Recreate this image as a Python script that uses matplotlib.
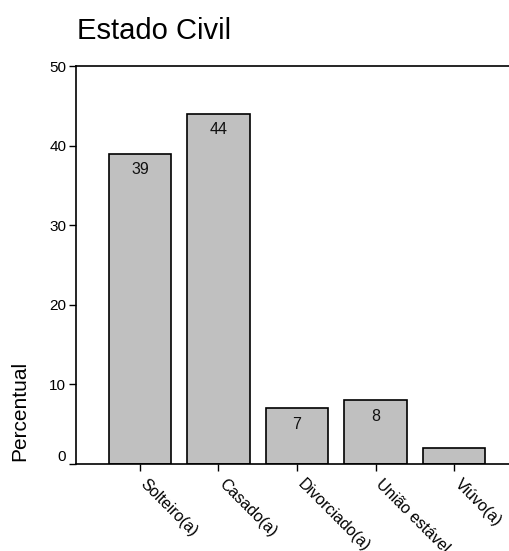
import matplotlib
matplotlib.use("Agg")
import matplotlib.pyplot as plt
from matplotlib.transforms import ScaledTranslation

plt.rcParams['font.family'] = ['Liberation Sans', 'DejaVu Sans']

categories = ["Solteiro(a)", "Casado(a)", "Divorciado(a)", "União estável", "Viúvo(a)"]
values = [39, 44, 7, 8, 2]
bar_labels = ["39", "44", "7", "8", ""]
yticks = [0, 10, 20, 30, 40, 50]

fig = plt.figure(figsize=(5.09, 5.51), dpi=100)
ax = fig.add_axes([0.1493, 0.1579, 0.8507, 0.7223])

x = list(range(len(categories)))
bars = ax.bar(x, values, width=0.80, color="#c0c0c0", edgecolor="black", linewidth=1.2, zorder=2)

for b, lab in zip(bars, bar_labels):
    if lab:
        ax.annotate(lab, (b.get_x() + b.get_width() / 2, b.get_height()),
                    xytext=(0, -16), textcoords="offset pixels",
                    ha="center", va="center", fontsize=11.5, color="#111111")

ax.set_xlim(-0.815, 4.70)
ax.set_ylim(0, 50)
ax.set_yticks(yticks)
ax.set_yticklabels([str(v) for v in yticks], fontsize=11)
ax.set_xticks(x)
ax.set_xticklabels(categories, rotation=-45, ha="left", va="top",
                   rotation_mode="anchor", fontsize=11.5)
ax.tick_params(axis="both", length=5, width=1, color="black")
ax.tick_params(axis="x", pad=4)
ax.tick_params(axis="y", pad=2)

shift_x = ScaledTranslation(8 / 100, 0, fig.dpi_scale_trans)
for t in ax.get_xticklabels():
    t.set_transform(t.get_transform() + shift_x)
shift_0 = ScaledTranslation(0, 8 / 100, fig.dpi_scale_trans)
ylabs = ax.get_yticklabels()
ylabs[0].set_transform(ylabs[0].get_transform() + shift_0)

for s in ["left", "top", "bottom"]:
    ax.spines[s].set_linewidth(1.2)
ax.spines["right"].set_visible(False)

fig.text(0.151, 0.944, "Estado Civil", fontsize=21, ha="left", va="center")
fig.text(0.039, 0.255, "Percentual", rotation=90, fontsize=15, ha="center", va="center")

fig.savefig("out.png", dpi=100)
